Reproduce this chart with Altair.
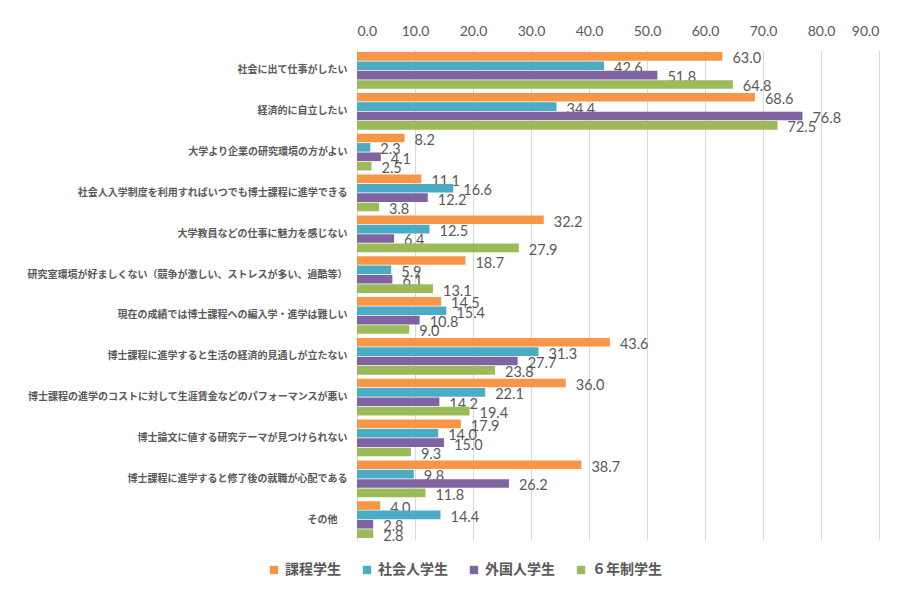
import altair as alt
import pandas as pd

categories = [
    "社会に出て仕事がしたい",
    "経済的に自立したい",
    "大学より企業の研究環境の方がよい",
    "社会人入学制度を利用すればいつでも博士課程に進学できる",
    "大学教員などの仕事に魅力を感じない",
    "研究室環境が好ましくない（競争が激しい、ストレスが多い、過酷等）",
    "現在の成績では博士課程への編入学・進学は難しい",
    "博士課程に進学すると生活の経済的見通しが立たない",
    "博士課程の進学のコストに対して生涯賃金などのパフォーマンスが悪い",
    "博士論文に値する研究テーマが見つけられない",
    "博士課程に進学すると修了後の就職が心配である",
    "その他",
]
series = ["課程学生", "社会人学生", "外国人学生", "６年制学生"]
katei = [63.0, 68.6, 8.2, 11.1, 32.2, 18.7, 14.5, 43.6, 36.0, 17.9, 38.7, 4.0]
shakaijin = [42.6, 34.4, 2.3, 16.6, 12.5, 5.9, 15.4, 31.3, 22.1, 14.0, 9.8, 14.4]
gaikokujin = [51.8, 76.8, 4.1, 12.2, 6.4, 6.1, 10.8, 27.7, 14.2, 15.0, 26.2, 2.8]
rokunen = [64.8, 72.5, 2.5, 3.8, 27.9, 13.1, 9.0, 23.8, 19.4, 9.3, 11.8, 2.8]
colors = ["#F79646", "#4BACC6", "#8064A2", "#9BBB59"]

rows = []
for s, vals in zip(series, [katei, shakaijin, gaikokujin, rokunen]):
    for c, v in zip(categories, vals):
        rows.append({"cat": c, "series": s, "value": v})
df = pd.DataFrame(rows)

font = "Noto Sans CJK JP"
numfont = "Lato"
gray = "#595959"

y_enc = alt.Y("cat:N", sort=categories, title=None,
              scale=alt.Scale(paddingInner=0.1, paddingOuter=0.05),
              axis=alt.Axis(labelFontSize=10, labelFontWeight="bold", labelColor=gray,
                            labelFont=font, labelLimit=400,
                            labelPadding={"condition": {"test": "datum.label == 'その他'", "value": 20},
                                          "value": 10},
                            ticks=False, domainColor="#d9d9d9", grid=False))
yoff = alt.YOffset("series:N", sort=series, scale=alt.Scale(domain=series, paddingInner=0.08))
x_enc = alt.X("value:Q", title=None,
              scale=alt.Scale(domain=[0, 90], nice=False),
              axis=alt.Axis(orient="top", values=list(range(0, 91, 10)), format=".1f",
                            labelFontSize=14, labelColor=gray, labelFont=numfont,
                            ticks=False, domain=False, gridColor="#d9d9d9", labelPadding=12))

text = alt.Chart(df).mark_text(align="left", baseline="middle", dx=10, dy=3,
                               fontSize=14.5, color=gray, font=numfont).encode(
    x=x_enc, y=y_enc, yOffset=yoff, text=alt.Text("value:Q", format=".1f"))

bars = alt.Chart(df).mark_bar().encode(
    x=x_enc, y=y_enc, yOffset=yoff,
    color=alt.Color("series:N", sort=series,
                    scale=alt.Scale(domain=series, range=colors),
                    legend=alt.Legend(title=None, orient="none", direction="horizontal",
                                      legendX=-90, legendY=513,
                                      symbolType="square", symbolSize=70, symbolStrokeWidth=0,
                                      labelFontSize=14, labelFontWeight="bold", labelColor=gray,
                                      labelFont=font, columnPadding=19)))

chart = alt.layer(text, bars).properties(
    width=522, height=490,
    autosize=alt.AutoSizeParams(type="none"),
    padding={"left": 349, "top": 42, "right": 25, "bottom": 55},
).configure_view(stroke=None)

chart.save("out.html", embed_options={"renderer": "svg", "actions": False})
